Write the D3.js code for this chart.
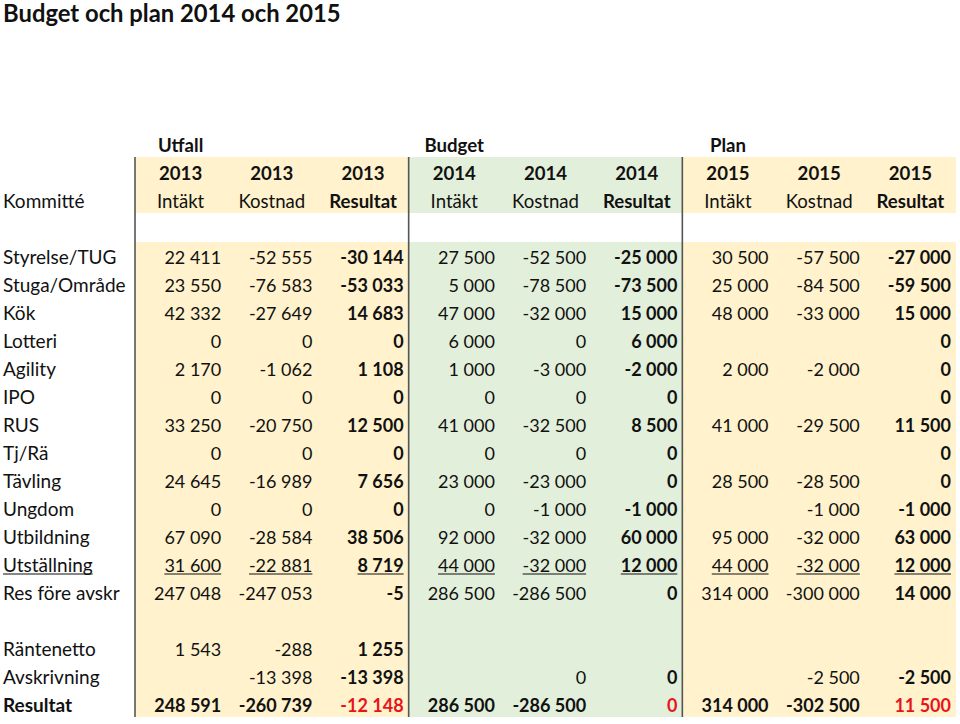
<!DOCTYPE html>
<html><head><meta charset="utf-8">
<script src="https://cdn.jsdelivr.net/npm/d3@7/dist/d3.min.js"></script>
<style>body{margin:0;background:#fff}svg{display:block}text{font-family:Lato,"Open Sans",sans-serif;fill:#111}</style>
</head><body>
<svg id="c" width="960" height="724"></svg>
<script>
const title = "Budget och plan 2014 och 2015";
const groups = ["Utfall", "Budget", "Plan"];
const years = ["2013","2013","2013","2014","2014","2014","2015","2015","2015"];
const subHeads = ["Intäkt","Kostnad","Resultat","Intäkt","Kostnad","Resultat","Intäkt","Kostnad","Resultat"];
const committees = ["Styrelse/TUG","Stuga/Område","Kök","Lotteri","Agility","IPO","RUS","Tj/Rä","Tävling","Ungdom","Utbildning","Utställning","Res före avskr","Räntenetto","Avskrivning","Resultat"];
const intakt2013   = [22411,23550,42332,0,2170,0,33250,0,24645,0,67090,31600,247048,1543,null,248591];
const kostnad2013  = [-52555,-76583,-27649,0,-1062,0,-20750,0,-16989,0,-28584,-22881,-247053,-288,-13398,-260739];
const resultat2013 = [-30144,-53033,14683,0,1108,0,12500,0,7656,0,38506,8719,-5,1255,-13398,-12148];
const intakt2014   = [27500,5000,47000,6000,1000,0,41000,0,23000,0,92000,44000,286500,null,null,286500];
const kostnad2014  = [-52500,-78500,-32000,0,-3000,0,-32500,0,-23000,-1000,-32000,-32000,-286500,null,0,-286500];
const resultat2014 = [-25000,-73500,15000,6000,-2000,0,8500,0,0,-1000,60000,12000,0,null,0,0];
const intakt2015   = [30500,25000,48000,null,2000,null,41000,null,28500,null,95000,44000,314000,null,null,314000];
const kostnad2015  = [-57500,-84500,-33000,null,-2000,null,-29500,null,-28500,-1000,-32000,-32000,-300000,null,-2500,-302500];
const resultat2015 = [-27000,-59500,15000,0,0,0,11500,0,0,-1000,63000,12000,14000,null,-2500,11500];
const columns = [intakt2013,kostnad2013,resultat2013,intakt2014,kostnad2014,resultat2014,intakt2015,kostnad2015,resultat2015];

const svg = d3.select("#c");
const fmt = d3.formatLocale({decimal:",", thousands:"\u00a0", grouping:[3], currency:["",""], minus:"-"}).format(",d");

const x = d3.scaleBand().domain(d3.range(9)).range([135, 956]);
const nSlots = 21;
const y = d3.scaleBand().domain(d3.range(nSlots)).range([130, 130 + 28*nSlots]);
const slotOf = i => 4 + i + (i >= 13 ? 1 : 0);
const colFill = c => (c >= 3 && c < 6) ? "#E2EFDA" : "#FFF2CC";
const fsNum = 18, fsLab = 19, fsHead = 18.6;
const DY = "0.42em";

// title
svg.append("text").attr("x", 3).attr("y", 22).attr("font-size", 23.8).attr("font-weight", "bold").text(title);

// backgrounds
[0,3,6].forEach(c0 => {
  const x0 = x(c0), x1 = x(c0+2) + x.bandwidth();
  svg.append("rect").attr("x", x0).attr("y", y(1) - 1).attr("width", x1-x0).attr("height", y(3)-y(1)).attr("fill", colFill(c0));
  svg.append("rect").attr("x", x0).attr("y", y(4)).attr("width", x1-x0).attr("height", y.range()[1]-y(4) - 1).attr("fill", colFill(c0));
});
// vertical lines
[0,3,6].forEach(c0 => {
  svg.append("line").attr("x1", x(c0)).attr("x2", x(c0)).attr("y1", y(1) - 1).attr("y2", y.range()[1] - 1).attr("stroke", "#555").attr("stroke-width", 1.6);
});

const mid = s => y(s) + y.bandwidth()/2;

// group headers
groups.forEach((g, k) => {
  svg.append("text").attr("x", x(k*3) + x.bandwidth()/2).attr("y", mid(0)).attr("dy", DY)
    .attr("text-anchor", "middle").attr("font-size", fsHead).attr("font-weight", "bold").text(g);
});
years.forEach((t, c) => {
  svg.append("text").attr("x", x(c) + x.bandwidth()/2).attr("y", mid(1)).attr("dy", DY)
    .attr("text-anchor", "middle").attr("font-size", fsHead).attr("font-weight", "bold").text(t);
});
subHeads.forEach((t, c) => {
  svg.append("text").attr("x", x(c) + x.bandwidth()/2).attr("y", mid(2)).attr("dy", DY)
    .attr("text-anchor", "middle").attr("font-size", fsHead).attr("font-weight", c % 3 === 2 ? "bold" : "normal").text(t);
});
svg.append("text").attr("x", 3).attr("y", mid(2)).attr("dy", DY).attr("font-size", fsLab).text("Kommitté");

function underline(sel, anchor) {
  const node = sel.node();
  const w = node.getComputedTextLength();
  const xx = +sel.attr("x"), yy = +sel.attr("y");
  const xs = anchor === "end" ? xx - w : xx;
  svg.append("line").attr("x1", xs).attr("x2", xs + w).attr("y1", yy + 10).attr("y2", yy + 10)
    .attr("stroke", "#111").attr("stroke-width", 1.2);
}

const lastRow = committees.length - 1;
const ulRow = committees.indexOf("Utställning");
committees.forEach((name, i) => {
  const s = slotOf(i);
  const lt = svg.append("text").attr("x", 3).attr("y", mid(s)).attr("dy", DY).attr("font-size", fsLab)
    .attr("font-weight", i === lastRow ? "bold" : "normal").text(name);
  if (i === ulRow) underline(lt, "start");
  columns.forEach((col, c) => {
    const v = col[i];
    if (v === null || v === undefined) return;
    const bold = (c % 3 === 2) || i === lastRow;
    const red = (c % 3 === 2) && i === lastRow;
    const t = svg.append("text").attr("x", x(c) + x.bandwidth() - 5).attr("y", mid(s)).attr("dy", DY)
      .attr("text-anchor", "end").attr("font-size", fsNum).attr("font-weight", bold ? "bold" : "normal")
      .style("fill", red ? "#E8141B" : "#111").text(fmt(v));
    if (i === ulRow) underline(t, "end");
  });
});
</script>
</body></html>
